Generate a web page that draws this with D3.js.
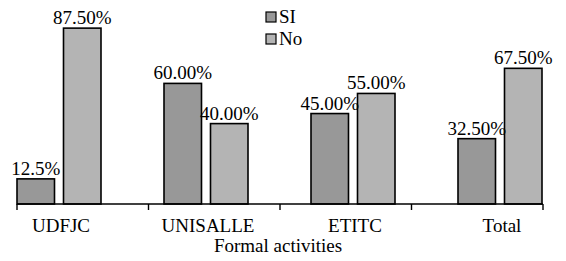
<!DOCTYPE html>
<html><head><meta charset="utf-8">
<script src="https://cdn.jsdelivr.net/npm/d3@7"></script>
<style>body{margin:0;background:#fff}svg{display:block}
svg text{font-family:"Liberation Serif","Times New Roman",Times,"DejaVu Serif",serif;font-size:19px;fill:#000}</style>
</head><body>
<svg id="chart" width="566" height="261"></svg>
<script>
const categories = ["UDFJC", "UNISALLE", "ETITC", "Total"];
const seriesNames = ["SI", "No"];
const siValues = [12.5, 60.0, 45.0, 32.5];
const noValues = [87.5, 40.0, 55.0, 67.5];
const siLabels = ["12.5%", "60.00%", "45.00%", "32.50%"];
const noLabels = ["87.50%", "40.00%", "55.00%", "67.50%"];
const xAxisTitle = "Formal activities";
const colors = {SI: "#989898", No: "#b4b4b4"};

const svg = d3.select("#chart");

const y = d3.scaleLinear().domain([0, 100]).range([204, 3]);
const xGroup = d3.scalePoint().domain(categories).range([59, 500]);
const xInner = d3.scaleBand().domain(seriesNames).range([-42, 42]).paddingInner(0.1935);
const xAxisBand = d3.scaleBand().domain(categories).range([17, 543]);

const data = [];
categories.forEach((c, i) => {
  data.push({cat: c, s: "SI", v: siValues[i], label: siLabels[i]});
  data.push({cat: c, s: "No", v: noValues[i], label: noLabels[i]});
});

svg.selectAll("rect.bar").data(data).enter().append("rect")
  .attr("class", "bar")
  .attr("x", d => xGroup(d.cat) + xInner(d.s))
  .attr("width", xInner.bandwidth())
  .attr("y", d => y(d.v))
  .attr("height", d => y(0) - y(d.v))
  .attr("fill", d => colors[d.s])
  .attr("stroke", "#000").attr("stroke-width", 1.6);

svg.selectAll("text.val").data(data).enter().append("text")
  .attr("class", "val")
  .attr("x", d => xGroup(d.cat) + xInner(d.s) + xInner.bandwidth() / 2)
  .attr("y", d => y(d.v) - 4)
  .attr("text-anchor", "middle")
  .text(d => d.label);

// axis line and boundary ticks
const g = svg.append("g");
g.append("line").attr("x1", xAxisBand.range()[0]).attr("x2", xAxisBand.range()[1])
  .attr("y1", y(0)).attr("y2", y(0)).attr("stroke", "#000").attr("stroke-width", 1.6);
const tickXs = categories.map(c => xAxisBand(c)).concat([xAxisBand.range()[1]]);
g.selectAll("line.tick").data(tickXs).enter().append("line")
  .attr("class", "tick")
  .attr("x1", d => d).attr("x2", d => d)
  .attr("y1", y(0)).attr("y2", y(0) + 6)
  .attr("stroke", "#000").attr("stroke-width", 1.4);

svg.selectAll("text.cat").data(categories).enter().append("text")
  .attr("class", "cat")
  .attr("x", d => xGroup(d) + 2)
  .attr("y", 232)
  .attr("text-anchor", "middle")
  .text(d => d);

svg.append("text").attr("x", 278).attr("y", 252)
  .attr("text-anchor", "middle")
  .text(xAxisTitle);

// legend
const leg = svg.append("g").attr("transform", "translate(266,12)");
seriesNames.forEach((s, i) => {
  const r = leg.append("g").attr("transform", `translate(0,${i * 22})`);
  r.append("rect").attr("width", 10).attr("height", 10)
    .attr("fill", colors[s]).attr("stroke", "#000").attr("stroke-width", 1.2);
  r.append("text").attr("x", 13).attr("y", 10.5)
    .text(s);
});
</script>
</body></html>
